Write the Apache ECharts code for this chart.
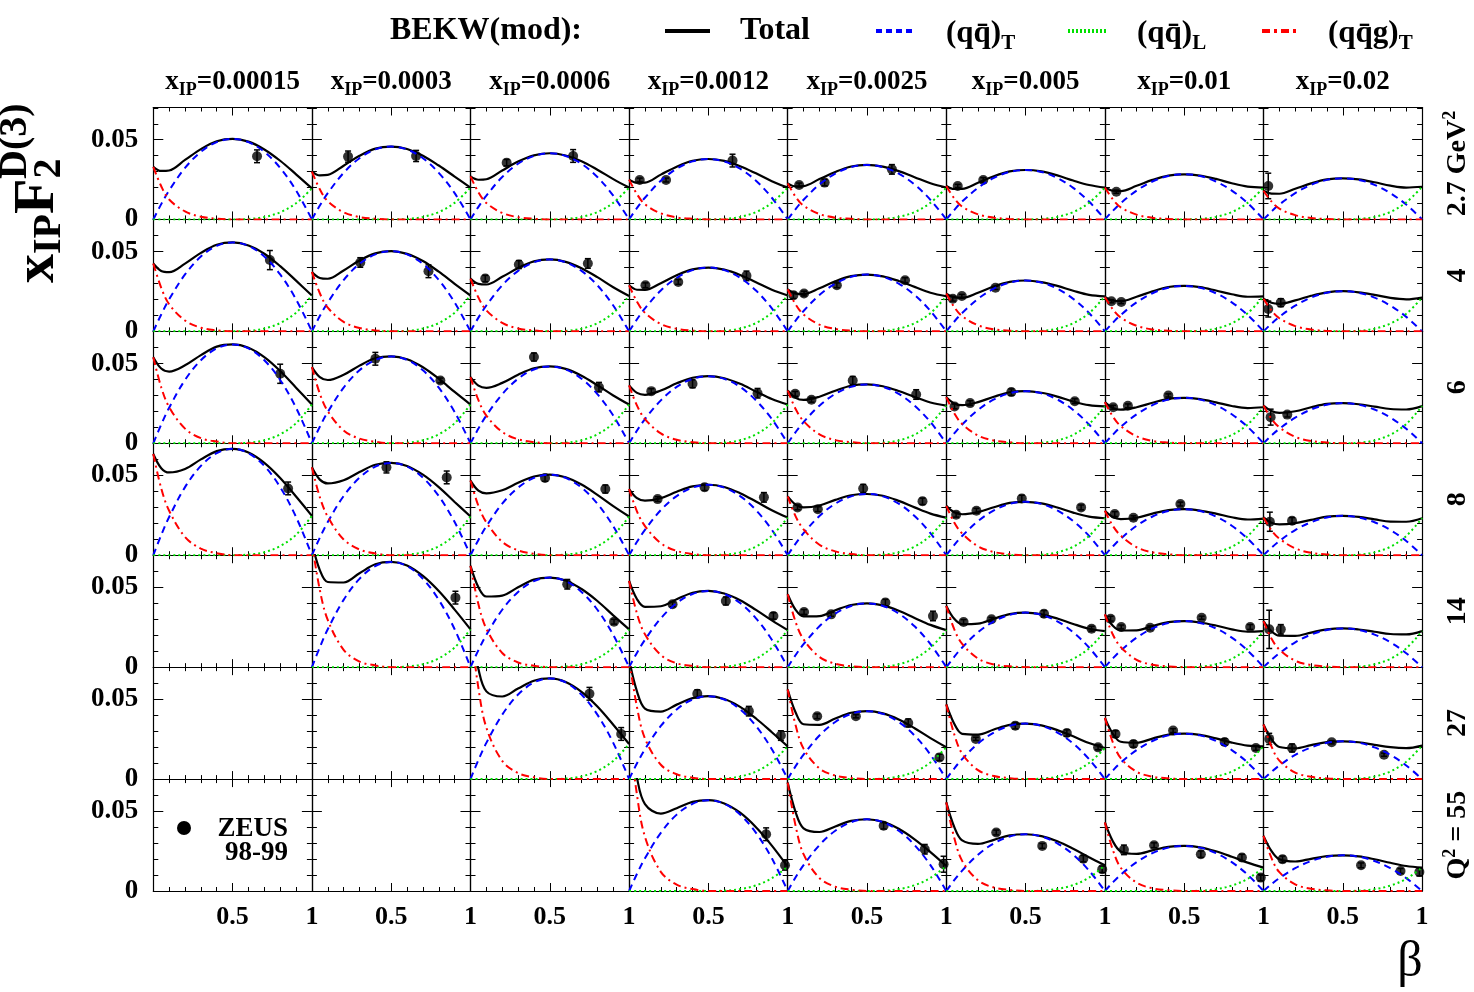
<!DOCTYPE html>
<html>
<head>
<meta charset="utf-8">
<title>BEKW(mod) vs ZEUS 98-99</title>
<script src="https://cdn.jsdelivr.net/npm/echarts@6.0.0/dist/echarts.min.js"></script>
<style>
  html, body { margin: 0; padding: 0; background: #fff; }
  #chart { width: 1474px; height: 992px; }
</style>
</head>
<body>
<div id="chart"></div>
<script>
// columns: x_IP bins, rows: Q^2 bins
const xipBins = ['0.00015', '0.0003', '0.0006', '0.0012', '0.0025', '0.005', '0.01', '0.02'];
const q2Bins = ['2.7', '4', '6', '8', '14', '27', '55'];
const betaGrid = [0, 0.05, 0.1, 0.2, 0.3, 0.4, 0.5, 0.6, 0.7, 0.8, 0.9, 1];

// (qq)_T : value at every betaGrid point, one array per x_IP column (null = empty panel)
// (qqg)_T : values at beta 0 .. 0.5 (zero above)
// (qq)_L : values at beta 0.6 .. 1 (zero below)
// zeus : [column, beta, xIP*F2D3, error]

// ---- Q2 = 2.7 GeV2
const qqT_Q2_2p7 = [
  [0, .0096, .0182, .0323, .0424, .0485, .0505, .0485, .0424, .0323, .0182, 0],
  [0, .0087, .0165, .0292, .0384, .0439, .0457, .0439, .0384, .0292, .0165, 0],
  [0, .0079, .0149, .0266, .0349, .0398, .0415, .0398, .0349, .0266, .0149, 0],
  [0, .0072, .0136, .0243, .0318, .0364, .0379, .0364, .0318, .0243, .0136, 0],
  [0, .0065, .0123, .0219, .0287, .0328, .0342, .0328, .0287, .0219, .0123, 0],
  [0, .0059, .0112, .0198, .0260, .0298, .0310, .0298, .0260, .0198, .0112, 0],
  [0, .0054, .0102, .0181, .0238, .0272, .0283, .0272, .0238, .0181, .0102, 0],
  [0, .0049, .0093, .0165, .0217, .0248, .0258, .0248, .0217, .0165, .0093, 0]
];
const qqg_Q2_2p7 = [
  [.033, .0208, .0125, .0050, .0017, .0005, 0],
  [.030, .0189, .0114, .0045, .0015, .0005, 0],
  [.027, .0170, .0103, .0041, .0014, .0004, 0],
  [.025, .0158, .0095, .0038, .0013, .0004, 0],
  [.0226, .0142, .0086, .0034, .0011, .0004, 0],
  [.021, .0132, .0080, .0032, .0011, .0003, 0],
  [.020, .0126, .0076, .0030, .0010, .0003, 0],
  [.018, .0113, .0068, .0027, .0009, .0003, 0]
];
const qqL_Q2_2p7 = [
  [.0003, .0015, .0045, .0101, .0195],
  [.0003, .0016, .0046, .0104, .020],
  [.0003, .0016, .0046, .0104, .020],
  [.0003, .0016, .0046, .0104, .020],
  [.0003, .0016, .0046, .0104, .020],
  [.0003, .0016, .0046, .0104, .020],
  [.0003, .0016, .0046, .0104, .020],
  [.0003, .0016, .0047, .0107, .0205]
];
const zeus_Q2_2p7 = [
  [0, .654, .0396, .004],
  [1, .228, .0394, .0035], [1, .657, .0398, .0035],
  [2, .228, .0356, .002], [2, .647, .0398, .004],
  [3, .067, .0247, .0012], [3, .233, .0247, .0012], [3, .652, .0369, .004],
  [4, .072, .0216, .0012], [4, .233, .0231, .002], [4, .657, .0314, .003],
  [5, .072, .0210, .001], [5, .233, .0247, .0015],
  [6, .072, .0174, .001],
  [7, .03, .021, .008]
];

// ---- Q2 = 4
const qqT_Q2_4 = [
  [0, .0106, .0201, .0357, .0469, .0536, .0558, .0536, .0469, .0357, .0201, 0],
  [0, .0096, .0181, .0322, .0423, .0483, .0503, .0483, .0423, .0322, .0181, 0],
  [0, .0086, .0162, .0289, .0379, .0433, .0451, .0433, .0379, .0289, .0162, 0],
  [0, .0076, .0144, .0256, .0336, .0384, .0400, .0384, .0336, .0256, .0144, 0],
  [0, .0068, .0128, .0228, .0299, .0342, .0356, .0342, .0299, .0228, .0128, 0],
  [0, .0061, .0115, .0204, .0268, .0306, .0319, .0306, .0268, .0204, .0115, 0],
  [0, .0054, .0103, .0182, .0239, .0274, .0285, .0274, .0239, .0182, .0103, 0],
  [0, .0048, .0091, .0161, .0212, .0242, .0252, .0242, .0212, .0161, .0091, 0]
];
const qqg_Q2_4 = [
  [.0426, .0273, .0170, .0068, .0023, .0007, 0],
  [.0373, .0239, .0149, .0060, .0021, .0006, 0],
  [.0331, .0212, .0132, .0053, .0018, .0006, 0],
  [.0289, .0185, .0116, .0046, .0016, .0005, 0],
  [.0264, .0169, .0106, .0042, .0015, .0004, 0],
  [.0237, .0152, .0095, .0038, .0013, .0004, 0],
  [.0216, .0138, .0086, .0035, .0012, .0004, 0],
  [.0205, .0131, .0082, .0033, .0011, .0003, 0]
];
const qqL_Q2_4 = [
  [.0003, .0018, .0052, .0117, .0225],
  [.0003, .0018, .0052, .0117, .0225],
  [.0003, .0017, .0051, .0115, .0222],
  [.0003, .0018, .0052, .0117, .0225],
  [.0003, .0017, .0051, .0114, .022],
  [.0003, .0017, .0051, .0114, .022],
  [.0003, .0017, .0051, .0114, .022],
  [.0003, .0017, .0049, .0110, .0212]
];
const zeus_Q2_4 = [
  [0, .735, .0447, .006],
  [1, .305, .0432, .003], [1, .735, .0377, .004],
  [2, .093, .0331, .002], [2, .305, .0419, .0025], [2, .74, .0426, .003],
  [3, .103, .0289, .0015], [3, .31, .0310, .0015], [3, .74, .0348, .003],
  [4, .036, .0226, .002], [4, .103, .0237, .0015], [4, .31, .0289, .0015], [4, .74, .0321, .0015],
  [5, .041, .0205, .0015], [5, .098, .0222, .001], [5, .31, .0273, .001],
  [6, .041, .0189, .001], [6, .103, .0184, .001],
  [7, .03, .014, .005], [7, .109, .018, .0025]
];

// ---- Q2 = 6
const qqT_Q2_6 = [
  [0, .0118, .0223, .0397, .0521, .0595, .0620, .0595, .0521, .0397, .0223, 0],
  [0, .0104, .0196, .0349, .0458, .0523, .0545, .0523, .0458, .0349, .0196, 0],
  [0, .0092, .0174, .0308, .0405, .0463, .0482, .0463, .0405, .0308, .0174, 0],
  [0, .0080, .0152, .0269, .0354, .0404, .0421, .0404, .0354, .0269, .0152, 0],
  [0, .0070, .0133, .0236, .0310, .0354, .0369, .0354, .0310, .0236, .0133, 0],
  [0, .0062, .0118, .0209, .0275, .0314, .0327, .0314, .0275, .0209, .0118, 0],
  [0, .0054, .0103, .0182, .0239, .0274, .0285, .0274, .0239, .0182, .0103, 0],
  [0, .0048, .0091, .0161, .0212, .0242, .0252, .0242, .0212, .0161, .0091, 0]
];
const qqg_Q2_6 = [
  [.054, .0351, .0227, .0092, .0032, .0011, 0],
  [.0478, .0311, .0201, .0081, .0029, .0010, 0],
  [.0415, .0270, .0174, .0071, .0025, .0008, 0],
  [.0363, .0236, .0152, .0062, .0022, .0007, 0],
  [.0331, .0215, .0139, .0056, .0020, .0007, 0],
  [.0289, .0188, .0121, .0049, .0017, .0006, 0],
  [.0258, .0168, .0108, .0044, .0015, .0005, 0],
  [.0237, .0154, .0100, .0040, .0014, .0005, 0]
];
const qqL_Q2_6 = [
  [.0004, .0019, .0056, .0126, .0243],
  [.0004, .0019, .0056, .0126, .0243],
  [.0004, .0019, .0056, .0126, .0243],
  [.0004, .0019, .0056, .0126, .0243],
  [.0004, .0018, .0054, .0123, .0236],
  [.0003, .0018, .0053, .0121, .0232],
  [.0003, .0018, .0052, .0118, .0226],
  [.0003, .0018, .0054, .0121, .0233]
];
const zeus_Q2_6 = [
  [0, .80, .0436, .006],
  [1, .40, .0530, .004], [1, .81, .0394, .0015],
  [2, .40, .0541, .0025], [2, .81, .0352, .003],
  [3, .14, .0327, .0015], [3, .40, .0373, .0025], [3, .81, .0314, .003],
  [4, .047, .0310, .0015], [4, .15, .0273, .0015], [4, .41, .0394, .0025], [4, .81, .0306, .003],
  [5, .052, .0231, .0015], [5, .15, .0252, .0015], [5, .41, .0321, .002], [5, .81, .0264, .0015],
  [6, .052, .0226, .0012], [6, .145, .0235, .0012], [6, .40, .0300, .001],
  [7, .045, .0164, .005], [7, .15, .0180, .0015]
];

// ---- Q2 = 8
const qqT_Q2_8 = [
  [0, .0127, .0240, .0427, .0560, .0640, .0667, .0640, .0560, .0427, .0240, 0],
  [0, .0110, .0208, .0371, .0486, .0556, .0579, .0556, .0486, .0371, .0208, 0],
  [0, .0096, .0182, .0323, .0424, .0485, .0505, .0485, .0424, .0323, .0182, 0],
  [0, .0084, .0159, .0283, .0371, .0424, .0442, .0424, .0371, .0283, .0159, 0],
  [0, .0073, .0138, .0246, .0323, .0369, .0384, .0369, .0323, .0246, .0138, 0],
  [0, .0064, .0121, .0214, .0281, .0322, .0335, .0322, .0281, .0214, .0121, 0],
  [0, .0055, .0104, .0185, .0243, .0277, .0289, .0277, .0243, .0185, .0104, 0],
  [0, .0047, .0089, .0158, .0207, .0237, .0247, .0237, .0207, .0158, .0089, 0]
];
const qqg_Q2_8 = [
  [.0635, .0419, .0279, .0114, .0041, .0013, 0],
  [.0551, .0364, .0242, .0099, .0036, .0011, 0],
  [.0468, .0309, .0206, .0084, .0030, .0009, 0],
  [.0415, .0274, .0183, .0075, .0027, .0008, 0],
  [.0369, .0244, .0162, .0066, .0024, .0007, 0],
  [.031, .0205, .0136, .0056, .0020, .0006, 0],
  [.0279, .0184, .0123, .0050, .0018, .0006, 0],
  [.0237, .0156, .0104, .0043, .0015, .0005, 0]
];
const qqL_Q2_8 = [
  [.0004, .0019, .0057, .0128, .0247],
  [.0004, .0019, .0056, .0126, .0243],
  [.0004, .0019, .0056, .0126, .0243],
  [.0004, .0018, .0054, .0123, .0236],
  [.0004, .0018, .0054, .0123, .0236],
  [.0003, .0018, .0053, .0121, .0232],
  [.0003, .0018, .0053, .0120, .023],
  [.0003, .0018, .0053, .0121, .0232]
];
const zeus_Q2_8 = [
  [0, .85, .0419, .004],
  [1, .47, .0551, .0035], [1, .85, .0488, .004],
  [2, .47, .0484, .002], [2, .85, .0415, .0025],
  [3, .18, .0352, .0015], [3, .476, .0426, .002], [3, .85, .0363, .003],
  [4, .062, .0300, .0015], [4, .19, .0289, .0015], [4, .476, .0419, .0025], [4, .85, .0338, .002],
  [5, .062, .0254, .0015], [5, .19, .0279, .0015], [5, .476, .0356, .002], [5, .85, .0300, .0015],
  [6, .062, .0258, .0015], [6, .18, .0235, .0012], [6, .476, .0321, .0012],
  [7, .04, .0210, .006], [7, .18, .0216, .002]
];

// ---- Q2 = 14
const qqT_Q2_14 = [
  null,
  [0, .0125, .0238, .0422, .0554, .0634, .0660, .0634, .0554, .0422, .0238, 0],
  [0, .0107, .0202, .0360, .0472, .0540, .0562, .0540, .0472, .0360, .0202, 0],
  [0, .0091, .0172, .0306, .0402, .0459, .0478, .0459, .0402, .0306, .0172, 0],
  [0, .0076, .0144, .0256, .0336, .0384, .0400, .0384, .0336, .0256, .0144, 0],
  [0, .0065, .0123, .0219, .0287, .0328, .0342, .0328, .0287, .0219, .0123, 0],
  [0, .0055, .0104, .0185, .0243, .0277, .0289, .0277, .0243, .0185, .0104, 0],
  [0, .0046, .0087, .0156, .0204, .0233, .0243, .0233, .0204, .0156, .0087, 0]
];
const qqg_Q2_14 = [
  null,
  [.078, .0484, .0296, .0109, .0035, .0011, 0],
  [.0635, .0394, .0241, .0089, .0029, .0009, 0],
  [.0541, .0335, .0206, .0076, .0024, .0008, 0],
  [.0457, .0283, .0174, .0064, .0021, .0006, 0],
  [.0384, .0238, .0146, .0054, .0017, .0005, 0],
  [.0331, .0205, .0126, .0046, .0015, .0005, 0],
  [.0289, .0179, .0110, .0040, .0013, .0004, 0]
];
const qqL_Q2_14 = [
  null,
  [.0004, .0018, .0055, .0123, .0237],
  [.0004, .0018, .0055, .0123, .0237],
  [.0003, .0018, .0053, .0121, .0232],
  [.0003, .0018, .0053, .0121, .0232],
  [.0003, .0018, .0052, .0118, .0226],
  [.0003, .0018, .0052, .0118, .0226],
  [.0003, .0018, .0052, .0118, .0226]
];
const zeus_Q2_14 = [
  [1, .905, .0436, .004],
  [2, .61, .0520, .003], [2, .905, .0285, .0015],
  [3, .274, .0394, .0015], [3, .61, .0415, .0025], [3, .91, .0321, .002],
  [4, .103, .0346, .0015], [4, .274, .0331, .0012], [4, .616, .0405, .002], [4, .916, .0321, .003],
  [5, .109, .0283, .0015], [5, .285, .0300, .0012], [5, .616, .0335, .002], [5, .916, .0241, .0015],
  [6, .036, .0304, .0015], [6, .103, .0252, .0012], [6, .285, .0247, .0012], [6, .61, .0310, .001], [6, .916, .0252, .0015],
  [7, .036, .0237, .012], [7, .109, .0237, .003]
];

// ---- Q2 = 27
const qqT_Q2_27 = [
  null,
  null,
  [0, .0120, .0227, .0404, .0530, .0606, .0631, .0606, .0530, .0404, .0227, 0],
  [0, .0099, .0187, .0333, .0437, .0499, .0520, .0499, .0437, .0333, .0187, 0],
  [0, .0081, .0153, .0273, .0358, .0409, .0426, .0409, .0358, .0273, .0153, 0],
  [0, .0066, .0125, .0223, .0292, .0334, .0348, .0334, .0292, .0223, .0125, 0],
  [0, .0054, .0103, .0182, .0239, .0274, .0285, .0274, .0239, .0182, .0103, 0],
  [0, .0045, .0085, .0152, .0199, .0228, .0237, .0228, .0199, .0152, .0085, 0]
];
const qqg_Q2_27 = [
  null,
  null,
  [.095, .0570, .0323, .0114, .0038, .0011, 0],
  [.075, .0450, .0255, .0090, .0030, .0009, 0],
  [.0562, .0337, .0191, .0067, .0022, .0007, 0],
  [.0468, .0281, .0159, .0056, .0019, .0006, 0],
  [.0384, .0230, .0131, .0046, .0015, .0005, 0],
  [.0342, .0205, .0116, .0041, .0014, .0004, 0]
];
const qqL_Q2_27 = [
  null,
  null,
  [.0003, .0017, .0051, .0114, .022],
  [.0003, .0016, .0047, .0107, .0205],
  [.0003, .0016, .0046, .0104, .020],
  [.0003, .0015, .0045, .0101, .0195],
  [.0003, .0016, .0047, .0107, .0205],
  [.0003, .0016, .0048, .0109, .021]
];
const zeus_Q2_27 = [
  [2, .75, .0535, .004], [2, .95, .0283, .004],
  [3, .43, .0535, .0025], [3, .755, .0426, .003], [3, .957, .0273, .003],
  [4, .186, .0394, .0015], [4, .43, .0394, .001], [4, .76, .0352, .0025], [4, .957, .0136, .002],
  [5, .186, .0252, .001], [5, .435, .0335, .002], [5, .76, .0289, .002], [5, .957, .0199, .0015],
  [6, .067, .0283, .002], [6, .18, .0220, .002], [6, .43, .0304, .0012], [6, .755, .0233, .002], [6, .952, .0195, .0015],
  [7, .036, .0252, .0035], [7, .18, .0195, .0025], [7, .43, .0231, .001], [7, .76, .0153, .001]
];

// ---- Q2 = 55
const qqT_Q2_55 = [
  null,
  null,
  null,
  [0, .0108, .0205, .0365, .0479, .0547, .0570, .0547, .0479, .0365, .0205, 0],
  [0, .0086, .0162, .0288, .0378, .0432, .0450, .0432, .0378, .0288, .0162, 0],
  [0, .0068, .0128, .0228, .0299, .0342, .0356, .0342, .0299, .0228, .0128, 0],
  [0, .0054, .0102, .0181, .0238, .0272, .0283, .0272, .0238, .0181, .0102, 0],
  [0, .0043, .0081, .0143, .0188, .0215, .0224, .0215, .0188, .0143, .0081, 0]
];
const qqg_Q2_55 = [
  null,
  null,
  null,
  [.100, .0600, .0340, .0120, .0040, .0012, 0],
  [.068, .0408, .0231, .0082, .0027, .0008, 0],
  [.0556, .0334, .0189, .0067, .0022, .0007, 0],
  [.043, .0258, .0146, .0052, .0017, .0005, 0],
  [.0346, .0208, .0118, .0042, .0014, .0004, 0]
];
const qqL_Q2_55 = [
  null,
  null,
  null,
  [.0002, .0012, .0035, .0080, .0153],
  [.0002, .0012, .0036, .0082, .0157],
  [.0002, .0013, .0037, .0084, .0161],
  [.0002, .0011, .0034, .0076, .0147],
  [.0002, .0011, .0034, .0076, .0147]
];
const zeus_Q2_55 = [
  [3, .864, .0356, .004], [3, .983, .0161, .003],
  [4, .605, .0409, .002], [4, .864, .0262, .003], [4, .983, .0168, .005],
  [5, .315, .0367, .0015], [5, .605, .0283, .0015], [5, .864, .0203, .002], [5, .983, .0136, .002],
  [6, .12, .0258, .003], [6, .31, .0287, .0015], [6, .605, .0231, .002], [6, .864, .0210, .002], [6, .983, .0084, .002],
  [7, .12, .0199, .002], [7, .615, .0161, .0015], [7, .864, .0126, .0015], [7, .983, .0119, .0025]
];

const rows = [
  { qqT: qqT_Q2_2p7, qqg: qqg_Q2_2p7, qqL: qqL_Q2_2p7, zeus: zeus_Q2_2p7 },
  { qqT: qqT_Q2_4, qqg: qqg_Q2_4, qqL: qqL_Q2_4, zeus: zeus_Q2_4 },
  { qqT: qqT_Q2_6, qqg: qqg_Q2_6, qqL: qqL_Q2_6, zeus: zeus_Q2_6 },
  { qqT: qqT_Q2_8, qqg: qqg_Q2_8, qqL: qqL_Q2_8, zeus: zeus_Q2_8 },
  { qqT: qqT_Q2_14, qqg: qqg_Q2_14, qqL: qqL_Q2_14, zeus: zeus_Q2_14 },
  { qqT: qqT_Q2_27, qqg: qqg_Q2_27, qqL: qqL_Q2_27, zeus: zeus_Q2_27 },
  { qqT: qqT_Q2_55, qqg: qqg_Q2_55, qqL: qqL_Q2_55, zeus: zeus_Q2_55 }
];

const FONT = '"Liberation Serif", "Times New Roman", serif';
const LEFT0 = 153.3, TOP0 = 107.5, PW = 158.6, PH = 111.93;
const YMAX = 0.0702;

const styleTotal = { color: '#000', width: 2.2, type: 'solid' };
const styleQQT = { color: '#0000ff', width: 2, type: [7, 5] };
const styleQQL = { color: '#00e000', width: 2, type: [2, 3] };
const styleQQG = { color: '#ff0000', width: 2, type: [8, 4, 2, 4] };

function xAx(gi, pos, labels) {
  return {
    gridIndex: gi, type: 'value', min: 0, max: 1, interval: 0.5, position: pos,
    axisLine: { show: true, onZero: false, lineStyle: { color: '#000', width: 1.2 } },
    axisTick: { show: true, inside: true, length: 8, lineStyle: { color: '#000', width: 1 } },
    minorTick: { show: true, splitNumber: 5, length: 4, lineStyle: { color: '#000', width: 1 } },
    splitLine: { show: false },
    minorSplitLine: { show: false },
    axisLabel: {
      show: labels, margin: 13, color: '#000', fontFamily: FONT, fontWeight: 'bold', fontSize: 26,
      formatter: function (v) { return v === 0.5 ? '0.5' : (v === 1 ? '1' : ''); }
    }
  };
}

function yAx(gi, pos, labels) {
  return {
    gridIndex: gi, type: 'value', min: 0, max: YMAX, interval: 0.05, position: pos,
    axisLine: { show: true, onZero: false, lineStyle: { color: '#000', width: 1.2 } },
    axisTick: { show: true, inside: true, length: 10, lineStyle: { color: '#000', width: 1 } },
    minorTick: { show: true, splitNumber: 5, length: 5, lineStyle: { color: '#000', width: 1 } },
    splitLine: { show: false },
    minorSplitLine: { show: false },
    axisLabel: {
      show: labels, margin: 15, color: '#000', fontFamily: FONT, fontWeight: 'bold', fontSize: 27,
      formatter: function (v) {
        if (v === 0) return '0';
        if (Math.abs(v - 0.05) < 1e-9) return '0.05';
        return '';
      }
    }
  };
}

function curve(name, data, gi, ls) {
  return {
    name: name, type: 'line', xAxisIndex: 2 * gi, yAxisIndex: 2 * gi,
    data: data, smooth: 0.35, showSymbol: false, symbol: 'none',
    lineStyle: ls, clip: true, silent: true
  };
}

const grid = [], xAxis = [], yAxis = [], series = [];

for (let r = 0; r < 7; r++) {
  for (let c = 0; c < 8; c++) {
    const gi = r * 8 + c;
    grid.push({ left: LEFT0 + c * PW, top: TOP0 + r * PH, width: PW, height: PH });
    xAxis.push(xAx(gi, 'bottom', r === 6), xAx(gi, 'top', false));
    yAxis.push(yAx(gi, 'left', c === 0), yAx(gi, 'right', false));

    const row = rows[r];
    if (!row.qqT[c]) continue;
    const blue = row.qqT[c];
    const red = row.qqg[c].concat([0, 0, 0, 0, 0]);
    const green = [0, 0, 0, 0, 0, 0, 0].concat(row.qqL[c]);

    series.push(curve('Total', betaGrid.map((b, i) => [b, blue[i] + red[i] + green[i]]), gi, styleTotal));
    series.push(curve('(qq)T', betaGrid.map((b, i) => [b, blue[i]]), gi, styleQQT));
    series.push(curve('(qq)L', betaGrid.map((b, i) => [b, green[i]]), gi, styleQQL));
    series.push(curve('(qqg)T', betaGrid.map((b, i) => [b, red[i]]), gi, styleQQG));

    const pts = row.zeus.filter(p => p[0] === c).map(p => [p[1], p[2], p[3]]);
    if (pts.length) {
      series.push({
        type: 'custom', xAxisIndex: 2 * gi, yAxisIndex: 2 * gi, data: pts, silent: true,
        encode: { x: 0, y: 1 },
        renderItem: function (params, api) {
          const b = api.value(0), v = api.value(1), e = api.value(2);
          const hi = api.coord([b, v + e]), lo = api.coord([b, v - e]);
          const s = { stroke: '#000', lineWidth: 1.5 };
          return {
            type: 'group', children: [
              { type: 'line', shape: { x1: hi[0], y1: hi[1], x2: lo[0], y2: lo[1] }, style: s },
              { type: 'line', shape: { x1: hi[0] - 3, y1: hi[1], x2: hi[0] + 3, y2: hi[1] }, style: s },
              { type: 'line', shape: { x1: lo[0] - 3, y1: lo[1], x2: lo[0] + 3, y2: lo[1] }, style: s }
            ]
          };
        }
      });
      series.push({
        type: 'scatter', xAxisIndex: 2 * gi, yAxisIndex: 2 * gi, data: pts.map(p => [p[0], p[1]]),
        symbol: 'circle', symbolSize: 10, itemStyle: { color: '#000' }, silent: true
      });
    }
  }
}

// ---- texts
const bold = (size) => ({ fontFamily: FONT, fontWeight: 'bold', fontSize: size, fill: '#000' });
const graphic = [];

graphic.push({ type: 'text', x: 390, y: 31, style: Object.assign(bold(32), { text: 'BEKW(mod):', verticalAlign: 'middle' }) });

// legend samples
graphic.push({ type: 'line', shape: { x1: 665, y1: 31, x2: 710, y2: 31 }, style: { stroke: '#000', lineWidth: 4 } });
graphic.push({ type: 'line', shape: { x1: 876, y1: 31, x2: 916, y2: 31 }, style: { stroke: '#0000ff', lineWidth: 4, lineDash: [6, 4] } });
graphic.push({ type: 'line', shape: { x1: 1068, y1: 31, x2: 1108, y2: 31 }, style: { stroke: '#00e000', lineWidth: 4, lineDash: [2, 2] } });
graphic.push({ type: 'line', shape: { x1: 1262, y1: 31, x2: 1300, y2: 31 }, style: { stroke: '#ff0000', lineWidth: 4, lineDash: [8, 4, 3, 4] } });

const legendRich = {
  m: { fontFamily: FONT, fontWeight: 'bold', fontSize: 31, lineHeight: 40, verticalAlign: 'middle' },
  s: { fontFamily: FONT, fontWeight: 'bold', fontSize: 21, lineHeight: 20, verticalAlign: 'bottom' }
};
graphic.push({ type: 'text', x: 740, y: 31, style: Object.assign(bold(32), { text: 'Total', verticalAlign: 'middle' }) });
graphic.push({ type: 'text', x: 946, y: 34, style: { text: '{m|(qq\u0304)}{s|T}', rich: legendRich, verticalAlign: 'middle', fill: '#000' } });
graphic.push({ type: 'text', x: 1137, y: 34, style: { text: '{m|(qq\u0304)}{s|L}', rich: legendRich, verticalAlign: 'middle', fill: '#000' } });
graphic.push({ type: 'text', x: 1328, y: 34, style: { text: '{m|(qq\u0304g)}{s|T}', rich: legendRich, verticalAlign: 'middle', fill: '#000' } });

// column headers
const headRich = {
  a: { fontFamily: FONT, fontWeight: 'bold', fontSize: 27, lineHeight: 34, verticalAlign: 'middle' },
  b: { fontFamily: FONT, fontWeight: 'bold', fontSize: 18, lineHeight: 16, verticalAlign: 'bottom' }
};
xipBins.forEach((x, c) => {
  graphic.push({
    type: 'text', x: LEFT0 + (c + 0.5) * PW, y: 82,
    style: { text: '{a|x}{b|IP}{a|=' + x + '}', rich: headRich, align: 'center', verticalAlign: 'middle', fill: '#000' }
  });
});

// Q2 labels on the right
const sideRich = {
  a: { fontFamily: FONT, fontWeight: 'bold', fontSize: 28, lineHeight: 34, verticalAlign: 'middle' },
  p: { fontFamily: FONT, fontWeight: 'bold', fontSize: 18, lineHeight: 18, verticalAlign: 'top' }
};
q2Bins.forEach((q, r) => {
  let t = '{a|' + q + '}';
  if (r === 0) t = '{a|' + q + ' GeV}{p|2}';
  if (r === 6) t = '{a|Q}{p|2}{a| = ' + q + '}';
  graphic.push({
    type: 'text', x: 1458, y: TOP0 + (r + 0.5) * PH, rotation: Math.PI / 2,
    style: { text: t, rich: sideRich, align: 'center', verticalAlign: 'middle', fill: '#000' }
  });
});

// y title
const titleRich = {
  a: { fontFamily: FONT, fontWeight: 'bold', fontSize: 58, lineHeight: 64, verticalAlign: 'middle' },
  b: { fontFamily: FONT, fontWeight: 'bold', fontSize: 40, lineHeight: 30, verticalAlign: 'bottom' }
};
graphic.push({
  type: 'group', x: 38, y: 283, rotation: Math.PI / 2,
  children: [
    { type: 'text', x: 0, y: 0, style: { text: '{a|x}{b|IP}{a|F}{b|2}', rich: titleRich, verticalAlign: 'middle', fill: '#000' } },
    { type: 'text', x: 104, y: -22, style: Object.assign(bold(40), { text: 'D(3)', verticalAlign: 'middle' }) }
  ]
});

// beta axis title
graphic.push({ type: 'text', x: 1410, y: 963, style: { text: 'β', fontFamily: FONT, fontSize: 50, fill: '#000', align: 'center', verticalAlign: 'middle' } });

// ZEUS legend
graphic.push({ type: 'circle', shape: { cx: 184, cy: 828, r: 7 }, style: { fill: '#000' } });
graphic.push({ type: 'text', x: 288, y: 829, style: Object.assign(bold(27), { text: 'ZEUS', align: 'right', verticalAlign: 'middle' }) });
graphic.push({ type: 'text', x: 288, y: 853, style: Object.assign(bold(27), { text: '98-99', align: 'right', verticalAlign: 'middle' }) });

const chart = echarts.init(document.getElementById('chart'));
chart.setOption({
  animation: false,
  backgroundColor: '#fff',
  grid: grid,
  xAxis: xAxis,
  yAxis: yAxis,
  series: series,
  graphic: graphic
});
</script>
</body>
</html>
